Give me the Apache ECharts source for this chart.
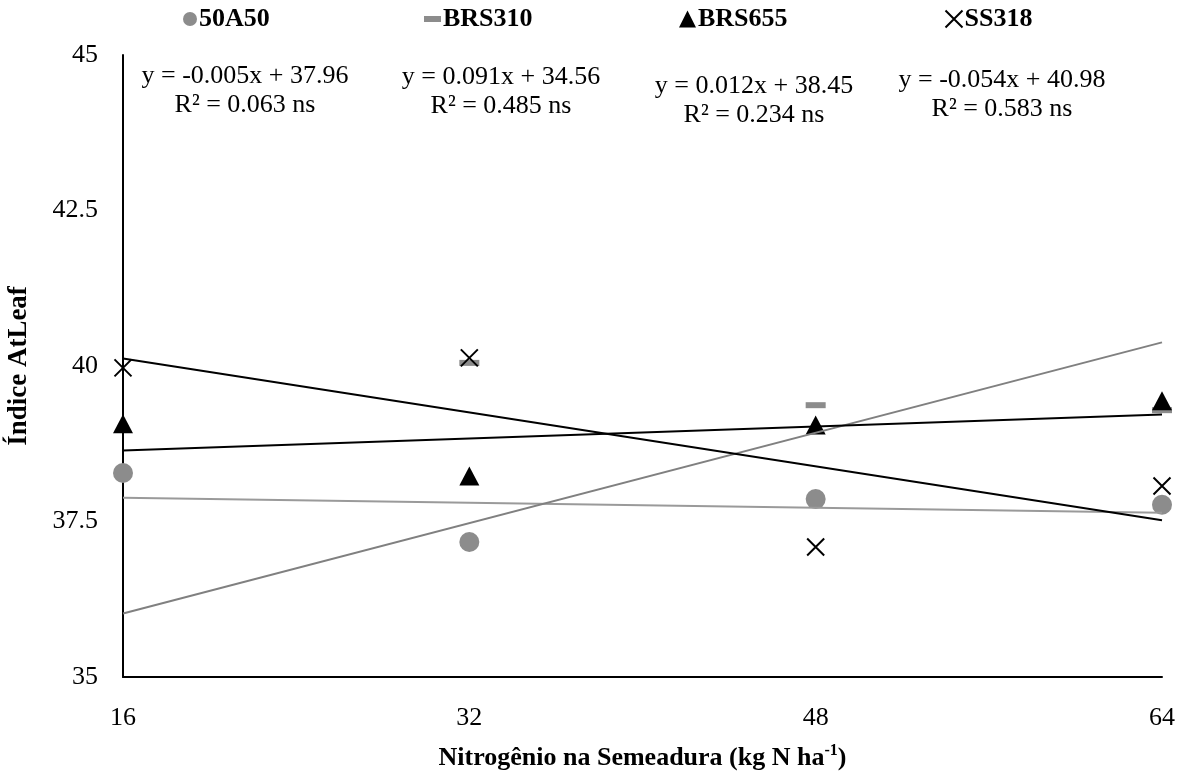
<!DOCTYPE html>
<html>
<head>
<meta charset="utf-8">
<script src="https://cdn.jsdelivr.net/npm/echarts@6/dist/echarts.min.js"></script>
<style>html,body{margin:0;padding:0;background:#fff;}#c{width:1184px;height:774px;}</style>
</head>
<body>
<div id="c"></div>
<script>
// ---- data ----
const nDoses = [16, 32, 48, 64];
const yTicks = [35, 37.5, 40, 42.5, 45];
const v50A50 = [38.28, 37.17, 37.86, 37.77];
const vBRS310 = [34.1, 40.05, 39.37, 39.29];
const vBRS655 = [39.07, 38.23, 39.05, 39.44];
const vSS318 = [39.97, 40.13, 37.09, 38.07];
// trend line endpoints (x=16, x=64)
const t50A50 = [37.88, 37.64];
const tBRS310 = [36.02, 40.38];
const tBRS655 = [38.64, 39.22];
const tSS318 = [40.12, 37.52];
const equations = [
  'y = -0.005x + 37.96\nR² = 0.063 ns',
  'y = 0.091x + 34.56\nR² = 0.485 ns',
  'y = 0.012x + 38.45\nR² = 0.234 ns',
  'y = -0.054x + 40.98\nR² = 0.583 ns'
];
const seriesNames = ['50A50', 'BRS310', 'BRS655', 'SS318'];

const FF = "'Liberation Serif', 'Times New Roman', serif";
const pts = v => v.map((y, i) => [nDoses[i], y]);
const ends = t => [[nDoses[0], t[0]], [nDoses[nDoses.length - 1], t[1]]];

const chart = echarts.init(document.getElementById('c'));
const legendBase = (name, left, w, h) => ({
  data: [name], left: left, top: 6, padding: 0, itemGap: 0,
  itemWidth: w, itemHeight: h, selectedMode: false,
  textStyle: { fontFamily: FF, fontSize: 26, fontWeight: 'bold', color: '#000', padding: [0, 0, 0, -3] }
});
const eqPos = [[245, 62], [501, 63], [754, 72], [1002, 66]];

chart.setOption({
  animation: false,
  backgroundColor: '#fff',
  grid: { left: 123, right: 22, top: 55, bottom: 97, outerBoundsMode: 'none', containLabel: false },
  legend: [
    legendBase('50A50', 183, 14, 14),
    legendBase('BRS310', 424, 17, 6),
    legendBase('BRS655', 679, 17, 17),
    legendBase('SS318', 943, 17, 17)
  ],
  xAxis: {
    type: 'value', min: 16, max: 64, interval: 16,
    axisLine: { show: true, lineStyle: { color: '#000', width: 2 } },
    axisTick: { show: false }, splitLine: { show: false },
    axisLabel: { fontFamily: FF, fontSize: 26, color: '#000', margin: 28 },
    name: '{b|Nitrogênio na Semeadura (kg N ha}{s|-1}{b|)}',
    nameLocation: 'middle', nameGap: 66,
    nameTextStyle: {
      rich: {
        b: { fontFamily: FF, fontSize: 26, fontWeight: 'bold', color: '#000' },
        s: { fontFamily: FF, fontSize: 16, fontWeight: 'bold', color: '#000', padding: [0, 0, 14, 0] }
      }
    }
  },
  yAxis: {
    type: 'value', min: 35, max: 45, interval: 2.5,
    axisLine: { show: true, lineStyle: { color: '#000', width: 2 } },
    axisTick: { show: false }, splitLine: { show: false },
    axisLabel: { fontFamily: FF, fontSize: 26, color: '#000', margin: 25,
      formatter: v => (yTicks.indexOf(v) >= 0 ? String(v) : '') },
    name: 'Índice AtLeaf', nameLocation: 'middle', nameGap: 90,
    nameTextStyle: { fontFamily: FF, fontSize: 27, fontWeight: 'bold', color: '#000' }
  },
  graphic: equations.map((t, i) => ({
    type: 'text', x: eqPos[i][0], y: eqPos[i][1], silent: true,
    style: { text: t, fontFamily: FF, fontSize: 26, fill: '#000', align: 'center', lineHeight: 29 }
  })),
  series: [
    { name: seriesNames[0], type: 'scatter', data: pts(v50A50), symbol: 'circle', symbolSize: 20,
      itemStyle: { color: '#8c8c8c', opacity: 1 }, clip: true, z: 2 },
    { name: seriesNames[1], type: 'scatter', data: pts(vBRS310), symbol: 'rect', symbolSize: [20, 6],
      itemStyle: { color: '#8c8c8c', opacity: 1 }, clip: true, z: 2 },
    { name: seriesNames[2], type: 'scatter', data: pts(vBRS655), symbol: 'triangle', symbolSize: [20, 19],
      itemStyle: { color: '#000', opacity: 1 }, clip: true, z: 3 },
    { name: seriesNames[3], type: 'scatter', data: pts(vSS318), symbol: 'path://M0,0L10,10M10,0L0,10', symbolSize: 17,
      itemStyle: { color: 'none', borderColor: '#000', borderWidth: 2, opacity: 1 }, clip: true, z: 3 },
    { type: 'line', data: ends(t50A50), symbol: 'none', lineStyle: { color: '#9a9a9a', width: 2 }, z: 4, silent: true },
    { type: 'line', data: ends(tBRS310), symbol: 'none', lineStyle: { color: '#808080', width: 2 }, z: 4, silent: true },
    { type: 'line', data: ends(tBRS655), symbol: 'none', lineStyle: { color: '#000', width: 2 }, z: 4, silent: true },
    { type: 'line', data: ends(tSS318), symbol: 'none', lineStyle: { color: '#000', width: 2 }, z: 4, silent: true }
  ]
});
</script>
</body>
</html>
